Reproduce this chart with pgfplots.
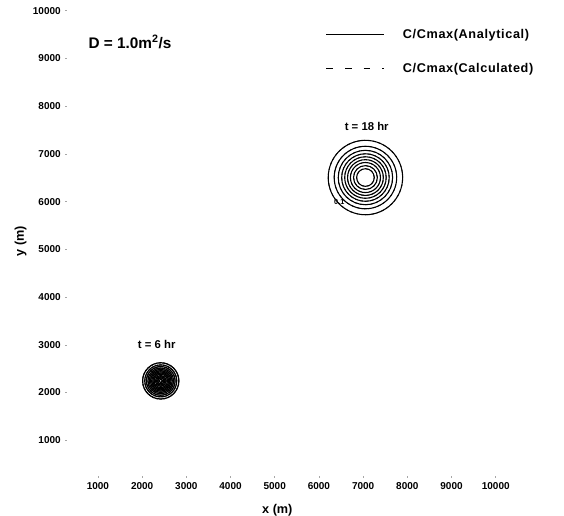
\documentclass[border=0pt]{standalone}
\usepackage{fontspec}
\setmainfont{Liberation Sans}
\newfontfamily\lgfont[LetterSpace=5]{Liberation Sans}
\usepackage{pgfplots}
\usepackage{pgfplotstable}
\pgfplotsset{compat=1.18}

% contour rings: centre (x, y) and radius r of each C/Cmax level, in metres
\pgfplotstableread{
x    y    r
2421 2243 380
2421 2243 335
2421 2243 300
2421 2243 270
2421 2243 242
2421 2243 215
2421 2243 190
2421 2243 165
2421 2243 140
2421 2243 115
2421 2243 90
2421 2243 65
2421 2243 40
}\ringsA
\pgfplotstableread{
x    y    r
7052 6505 780
7052 6505 655
7052 6505 570
7052 6505 498
7052 6505 435
7052 6505 375
7052 6505 315
7052 6505 250
7052 6505 185
}\ringsB

% metres -> pt on the drawn y scale
\newcommand\mtopt{0.03578}

\begin{document}
\begin{tikzpicture}
\begin{axis}[
  name=ax,
  scale only axis,
  width=331.5pt, height=352.5pt,
  xmin=300, xmax=10300, ymin=250, ymax=10100,
  axis line style={draw=none},
  xtick={1000,2000,...,10000},
  ytick={1000,2000,...,10000},
  xtick pos=bottom, ytick pos=left,
  tick align=outside,
  major tick length=1.2pt,
  tick style={gray!70, line width=0.4pt},
  scaled ticks=false,
  xticklabel style={/pgf/number format/1000 sep={}},
  yticklabel style={/pgf/number format/1000 sep={}},
  /pgf/number format/assume math mode=true,
  tick label style={font=\fontsize{7.5}{8}\selectfont\bfseries},
  xlabel={x (m)}, ylabel={y (m)},
  label style={font=\fontsize{9.5}{10}\selectfont\bfseries},
  xlabel style={yshift=-4pt, xshift=-8pt},
  ylabel style={yshift=-2pt},
  clip=false,
  legend image code/.code={\draw[#1, line width=0.8pt] (0pt,0pt) -- (43pt,0pt);},
  legend style={draw=none, fill=none, at={(0.585,0.957)}, anchor=north west,
    font=\lgfont\fontsize{9.5}{10}\selectfont\bfseries,
    row sep=13pt, inner sep=0pt,
    nodes={inner xsep=8pt},
    /tikz/every odd column/.append style={column sep=6pt}},
  legend cell align=left,
  ringstyle/.style={
    scatter, only marks, mark=o,
    scatter/use mapped color={draw=black, fill=none},
    visualization depends on={\thisrow{r}*\mtopt \as \rad},
    scatter/@pre marker code/.append style={/tikz/mark size=\rad},
    mark options={line width=0.8pt},
    forget plot},
]
\addlegendimage{black, solid}
\addlegendentry{C/Cmax(Analytical)}
\addlegendimage{black, dash pattern=on 5pt off 9pt}
\addlegendentry{C/Cmax(Calculated)}

% analytical solution
\addplot[ringstyle, mark options={line width=0.9pt}] table {\ringsA};
\addplot[ringstyle] table {\ringsB};
% calculated solution (coincides with the analytical rings)
\addplot[ringstyle, mark options={line width=0.7pt, dash pattern=on 2pt off 1pt}] table {\ringsA};
\addplot[ringstyle, mark options={line width=0.6pt, dash pattern=on 2pt off 2pt}] table {\ringsB};

\node[font=\fontsize{8.5}{9}\selectfont\bfseries] at (axis cs:7081,7568) {t = 18 hr};
\node[font=\fontsize{8.5}{9}\selectfont\bfseries] at (axis cs:2330,2998) {t = 6 hr};
\node[font=\fontsize{5.5}{6}\selectfont\bfseries, fill=white, inner sep=0.4pt]
  at (axis cs:6460,5985) {0.1};
\node[anchor=west, font=\fontsize{11.5}{12}\selectfont\bfseries]
  at (axis cs:680,9350) {D = 1.0m\textsuperscript{2}/s};
\end{axis}
\pgfresetboundingbox
\path[use as bounding box] ([xshift=-50.25pt,yshift=-30pt]ax.south west)
  rectangle ([xshift=41.25pt,yshift=4.5pt]ax.north east);
\end{tikzpicture}
\end{document}
